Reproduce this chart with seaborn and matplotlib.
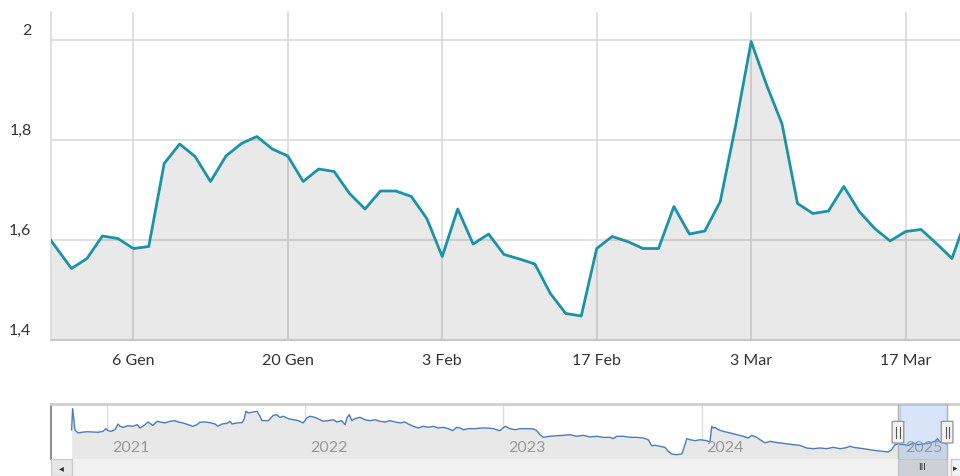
import numpy as np
import pandas as pd
import matplotlib
matplotlib.use("Agg")
import matplotlib.pyplot as plt
import matplotlib.transforms as mtransforms
from matplotlib.patches import Rectangle, FancyBboxPatch
import seaborn as sns

# ---------------- data ----------------
# main series: one value per trading day (ordinal axis), late Dec 2024 .. Mar 2025
values = [1.627, 1.585, 1.543, 1.563, 1.608, 1.603, 1.583, 1.587, 1.753, 1.792,
          1.767, 1.717, 1.768, 1.793, 1.807, 1.782, 1.768, 1.717, 1.742, 1.737,
          1.693, 1.662, 1.698, 1.698, 1.687, 1.643, 1.567, 1.662, 1.592, 1.612,
          1.571, 1.562, 1.552, 1.493, 1.453, 1.448, 1.583, 1.607, 1.597, 1.583,
          1.583, 1.667, 1.612, 1.618, 1.677, 1.830, 1.997, 1.910, 1.832, 1.673,
          1.653, 1.658, 1.707, 1.657, 1.623, 1.598, 1.617, 1.621, 1.593, 1.563,
          1.650]
tick_pos = [6, 16, 26, 36, 46, 56]
tick_labels = ["6 Gen", "20 Gen", "3 Feb", "17 Feb", "3 Mar", "17 Mar"]
y_ticks = [1.4, 1.6, 1.8, 2.0]
y_tick_labels = ["1,4", "1,6", "1,8", "2"]

# navigator series (whole history)
nav_years = [2020.823, 2020.828, 2020.840, 2020.855, 2020.875, 2020.901, 2020.931, 2020.956, 2020.981, 2020.996,
             2021.007, 2021.022, 2021.042, 2021.057, 2021.067, 2021.082, 2021.107, 2021.133, 2021.153, 2021.168,
             2021.193, 2021.208, 2021.233, 2021.254, 2021.269, 2021.294, 2021.319, 2021.344, 2021.360, 2021.385,
             2021.410, 2021.435, 2021.455, 2021.470, 2021.496, 2021.521, 2021.546, 2021.561, 2021.581, 2021.607,
             2021.622, 2021.632, 2021.657, 2021.682, 2021.692, 2021.702, 2021.713, 2021.738, 2021.758, 2021.773,
             2021.783, 2021.815, 2021.840, 2021.857, 2021.874, 2021.891, 2021.916, 2021.941, 2021.966, 2021.991,
             2022.009, 2022.025, 2022.050, 2022.076, 2022.092, 2022.117, 2022.143, 2022.160, 2022.185, 2022.202,
             2022.213, 2022.223, 2022.236, 2022.252, 2022.277, 2022.303, 2022.328, 2022.353, 2022.378, 2022.403,
             2022.429, 2022.454, 2022.479, 2022.504, 2022.521, 2022.546, 2022.571, 2022.597, 2022.622, 2022.647,
             2022.672, 2022.697, 2022.723, 2022.745, 2022.765, 2022.782, 2022.798, 2022.824, 2022.857, 2022.891,
             2022.916, 2022.950, 2022.983, 2023.009, 2023.034, 2023.059, 2023.084, 2023.118, 2023.151, 2023.168,
             2023.185, 2023.202, 2023.235, 2023.269, 2023.303, 2023.336, 2023.370, 2023.403, 2023.437, 2023.471,
             2023.504, 2023.538, 2023.555, 2023.572, 2023.605, 2023.639, 2023.673, 2023.706, 2023.731, 2023.748,
             2023.765, 2023.790, 2023.815, 2023.832, 2023.849, 2023.874, 2023.900, 2023.911, 2023.925, 2023.942,
             2023.967, 2023.992, 2024.026, 2024.042, 2024.051, 2024.059, 2024.068, 2024.084, 2024.109, 2024.143,
             2024.177, 2024.210, 2024.235, 2024.253, 2024.278, 2024.295, 2024.320, 2024.345, 2024.370, 2024.395,
             2024.429, 2024.462, 2024.496, 2024.530, 2024.563, 2024.597, 2024.631, 2024.664, 2024.698, 2024.723,
             2024.749, 2024.765, 2024.790, 2024.815, 2024.849, 2024.883, 2024.916, 2024.941, 2024.958, 2024.975,
             2024.992, 2025.017, 2025.042, 2025.068, 2025.093, 2025.118, 2025.152, 2025.177, 2025.190, 2025.202,
             2025.227, 2025.236]
nav_values = [2.65, 4.25, 2.65, 2.43, 2.48, 2.52, 2.50, 2.48, 2.55, 2.75,
              2.60, 2.55, 2.67, 3.10, 2.93, 2.85, 2.97, 2.93, 3.05, 2.80,
              3.05, 3.25, 3.00, 3.30, 3.25, 3.18, 3.30, 3.35, 3.25, 3.18,
              3.05, 2.93, 3.05, 3.23, 3.25, 3.20, 3.10, 2.93, 3.10, 3.15,
              3.30, 3.10, 3.18, 3.20, 3.42, 4.05, 3.93, 4.00, 4.05, 3.68,
              3.35, 3.35, 3.75, 3.80, 3.60, 3.68, 3.50, 3.42, 3.35, 3.18,
              3.55, 3.68, 3.60, 3.42, 3.30, 3.35, 3.42, 3.25, 3.35, 3.05,
              3.60, 3.80, 3.35, 3.50, 3.60, 3.42, 3.35, 3.42, 3.30, 3.25,
              3.35, 3.25, 3.18, 3.25, 3.10, 2.93, 2.80, 2.93, 2.85, 2.93,
              2.80, 2.85, 2.75, 2.60, 2.85, 2.80, 2.67, 2.75, 2.75, 2.80,
              2.80, 2.75, 2.60, 2.93, 2.75, 2.67, 2.75, 2.75, 2.73, 2.60,
              2.30, 2.10, 2.18, 2.22, 2.25, 2.30, 2.18, 2.25, 2.13, 2.18,
              2.10, 2.10, 2.00, 2.18, 2.18, 2.10, 2.10, 2.05, 1.92, 1.47,
              1.50, 1.43, 1.35, 1.05, 0.85, 0.80, 0.85, 1.30, 2.00, 1.92,
              1.85, 1.92, 1.85, 1.75, 2.93, 2.80, 2.85, 2.67, 2.55, 2.43,
              2.30, 2.18, 2.05, 2.25, 2.10, 1.92, 1.68, 1.80, 1.73, 1.68,
              1.62, 1.55, 1.50, 1.30, 1.25, 1.30, 1.25, 1.35, 1.25, 1.30,
              1.43, 1.35, 1.30, 1.25, 1.17, 1.10, 1.05, 1.00, 1.17, 1.55,
              1.60, 1.55, 1.50, 1.68, 1.55, 1.60, 1.68, 1.80, 2.00, 1.75,
              1.65, 1.60]
nav_year_ticks = [2021, 2022, 2023, 2024, 2025]
sel_start, sel_end = 2024.990, 2025.238

# ---------------- style ----------------
sns.set_theme(style="white")
plt.rcParams['font.family'] = ['Lato', 'DejaVu Sans']

W, H = 960, 476
fig = plt.figure(figsize=(W / 100, H / 100), dpi=100)

def frac(x0, y0, x1, y1):
    return [x0 / W, 1 - y1 / H, (x1 - x0) / W, (y1 - y0) / H]

LINE = "#1b93a6"
GRID = "#d7d7d7"

# ---------------- main chart ----------------
ax = fig.add_axes(frac(51, 12, 960, 340))
df = pd.DataFrame({"pos": np.arange(len(values)), "value": values})
ax.fill_between(df["pos"], df["value"], 1.0, color=(0, 0, 0), alpha=0.085, lw=0, zorder=2)
sns.lineplot(data=df, x="pos", y="value", ax=ax, color=LINE, lw=2.0, zorder=3)
ax.set_xlim(0.672, 59.52)
ax.set_ylim(1.4, 2.056)
ax.set_xticks(tick_pos)
ax.set_xticklabels(tick_labels)
ax.set_yticks(y_ticks)
ax.set_yticklabels(y_tick_labels)
ax.set_xlabel("")
ax.set_ylabel("")
ax.grid(True, color=GRID, lw=1.1, zorder=1)
ax.set_axisbelow(True)
for s in ["top", "right"]:
    ax.spines[s].set_visible(False)
ax.spines["left"].set_color(GRID)
ax.spines["left"].set_linewidth(1.1)
ax.spines["bottom"].set_color("#c8c8c8")
ax.spines["bottom"].set_linewidth(1.5)
ax.tick_params(axis="x", length=0, pad=10, labelsize=11.5, labelcolor="#333333")
ax.tick_params(axis="y", length=0, pad=14, labelsize=11.5, labelcolor="#333333")
for lab in ax.get_yticklabels():
    lab.set_transform(lab.get_transform() + mtransforms.ScaledTranslation(0, 10.5 / 100, fig.dpi_scale_trans))

# ---------------- navigator ----------------
nx0, nx1 = 2020.719, 2025.303
nav = fig.add_axes(frac(51, 404, 960, 459))
ndf = pd.DataFrame({"year": nav_years, "value": nav_values})
nav.fill_between(ndf["year"], ndf["value"], 0, color="#e8e8e8", lw=0, zorder=1)
sns.lineplot(data=ndf, x="year", y="value", ax=nav, color="#4a7cbd", lw=1.0, zorder=3)
nav.set_xlim(nx0, nx1)
nav.set_ylim(0.475, 4.6)
nav.set_xticks(nav_year_ticks)
nav.set_yticks([])
nav.set_xlabel("")
nav.set_ylabel("")
nav.grid(True, axis="x", color="#dcdcdc", lw=1.0, zorder=2)
nav.tick_params(axis="x", length=0, labelbottom=False)
for s in ["right", "bottom"]:
    nav.spines[s].set_visible(False)
nav.spines["top"].set_color("#cfcfcf")
nav.spines["top"].set_linewidth(2.0)
nav.spines["left"].set_color("#777777")
nav.spines["left"].set_linewidth(1.2)
btr = mtransforms.blended_transform_factory(nav.transData, nav.transAxes)
for yr in nav_year_ticks:
    nav.text(yr, 0.2, str(yr), transform=btr + mtransforms.ScaledTranslation(5 / 100, 0, fig.dpi_scale_trans),
             ha="left", va="center", fontsize=11.5, color="#999999", zorder=4)
# selection mask
nav.axvspan(sel_start, sel_end, color=(0.40, 0.60, 0.92), alpha=0.25, lw=0, zorder=4)
for xv in (sel_start, sel_end):
    nav.axvline(xv, color="#b0b0b0", lw=1.0, zorder=5)
# handles
hw_px = 11.6
for xv in (sel_start, sel_end):
    fx = (xv - nx0) / (nx1 - nx0)
    hw = hw_px / 909
    nav.add_patch(FancyBboxPatch((fx - hw / 2, 0.29), hw, 0.395, boxstyle="round,pad=0,rounding_size=0.004",
                                 transform=nav.transAxes, facecolor="#f2f2f2", edgecolor="#9a9a9a",
                                 lw=1.0, zorder=6, clip_on=False))
    for dx in (-1.6, 1.6):
        nav.plot([fx + dx / 909, fx + dx / 909], [0.39, 0.59], transform=nav.transAxes,
                 color="#555555", lw=0.8, zorder=7, clip_on=False)

# ---------------- scrollbar ----------------
sb = fig.add_axes(frac(51, 459, 960, 476))
sb.set_xlim(nx0, nx1)
sb.set_ylim(0, 1)
sb.axis("off")
sb.add_patch(Rectangle((0, 0), 1, 1, transform=sb.transAxes, facecolor="#f2f2f2", edgecolor="none", zorder=1))
bw = 20.7 / 909
sb.add_patch(Rectangle((0, 0), bw, 1, transform=sb.transAxes, facecolor="#e6e6e6",
                       edgecolor="#cccccc", lw=1.0, zorder=2))
sb.text(bw / 2, 0.45, "◂", transform=sb.transAxes, ha="center", va="center",
        fontsize=7, color="#333333", family="DejaVu Sans", zorder=3)
sb.add_patch(Rectangle((sel_start, 0), sel_end - sel_start, 1, facecolor="#cdd0d5",
                       edgecolor="#c0c0c0", lw=0.8, zorder=2))
sb.text((sel_start + sel_end) / 2, 0.5, "III", ha="center", va="center", fontsize=7,
        color="#333333", zorder=3)
rbx = (951 - 51) / 909
sb.add_patch(Rectangle((rbx, 0), 1 - rbx + 0.01, 1, transform=sb.transAxes, facecolor="#f4f4f4",
                       edgecolor="#cccccc", lw=1.0, zorder=2, clip_on=False))
sb.text((955.5 - 51) / 909, 0.45, "▸", transform=sb.transAxes, ha="center", va="center",
        fontsize=6.5, color="#333333", family="DejaVu Sans", zorder=3)

fig.savefig("out.png", dpi=100)
